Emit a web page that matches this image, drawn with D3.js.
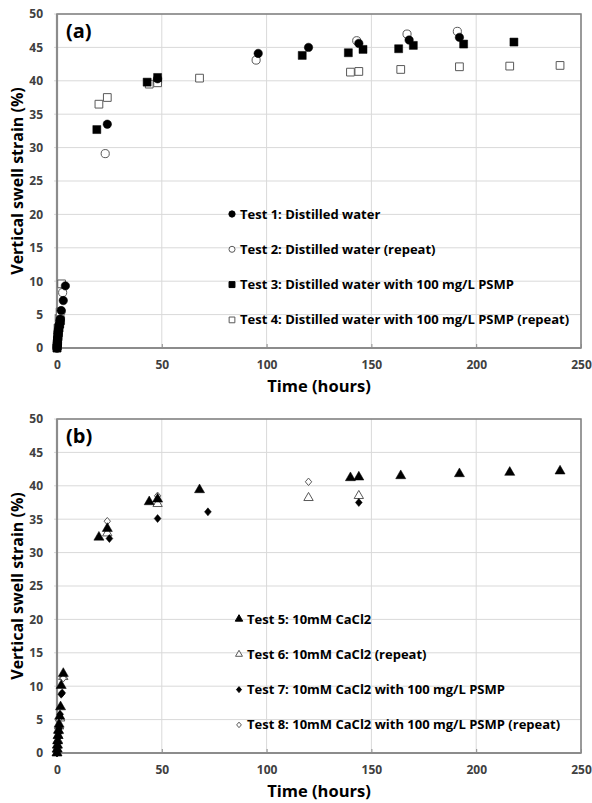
<!DOCTYPE html>
<html>
<head>
<meta charset="utf-8">
<script src="https://cdn.jsdelivr.net/npm/d3@7"></script>
<style>
body { margin: 0; background: #fff; }
text { font-family: "Open Sans", sans-serif; font-weight: bold; }
</style>
</head>
<body>
<div id="chart"></div>
<script>
// axis ticks
var timeTicks = [0, 50, 100, 150, 200, 250];
var strainTicks = [0, 5, 10, 15, 20, 25, 30, 35, 40, 45, 50];

// (a) distilled water
var test1Hours = [0, 0.08, 0.17, 0.25, 0.33, 0.5, 0.67, 0.83, 1, 1.5, 2, 3, 4, 24, 48, 96, 120, 144, 168, 192];
var test1Strain = [0, 0.4, 0.8, 1.2, 1.6, 2.2, 2.7, 3.1, 3.5, 4.3, 5.6, 7.1, 9.3, 33.5, 40.3, 44.1, 45.0, 45.6, 46.1, 46.5];
var test2Hours = [0, 0.1, 0.2, 0.3, 0.5, 0.7, 1, 1.5, 2, 2.7, 23, 48, 95, 143, 167, 191];
var test2Strain = [0, 0.5, 1.0, 1.4, 2.0, 2.6, 3.2, 4.2, 5.5, 8.3, 29.1, 39.8, 43.1, 46.0, 47.0, 47.4];
var test3Hours = [0, 0.1, 0.2, 0.3, 0.5, 0.7, 1, 1.3, 1.7, 19, 43, 48, 117, 139, 146, 163, 170, 194, 218];
var test3Strain = [0, 0.3, 0.7, 1.1, 1.7, 2.3, 3.0, 3.6, 4.1, 32.7, 39.8, 40.5, 43.8, 44.2, 44.7, 44.8, 45.3, 45.5, 45.8];
var test4Hours = [0, 0.1, 0.2, 0.3, 0.5, 1, 1.5, 2.2, 20, 24, 44, 48, 68, 140, 144, 164, 192, 216, 240];
var test4Strain = [0, 0.6, 1.3, 2.0, 3.0, 4.4, 5.4, 9.6, 36.5, 37.5, 39.5, 39.7, 40.4, 41.3, 41.4, 41.7, 42.1, 42.2, 42.3];

// (b) 10mM CaCl2
var test5Hours = [0, 0.1, 0.2, 0.3, 0.5, 0.7, 1, 1.3, 1.7, 2, 3, 20, 24, 44, 48, 68, 140, 144, 164, 192, 216, 240];
var test5Strain = [0, 0.6, 1.2, 1.8, 2.6, 3.4, 4.3, 5.5, 6.9, 10.1, 11.9, 32.3, 33.6, 37.6, 38.0, 39.4, 41.2, 41.3, 41.5, 41.8, 42.0, 42.2];
var test6Hours = [0, 0.1, 0.2, 0.4, 0.6, 0.8, 1, 1.5, 3, 24, 48, 120, 144];
var test6Strain = [0, 0.5, 1.1, 1.9, 2.6, 3.3, 4.0, 5.2, 11.4, 32.9, 37.3, 38.2, 38.5];
var test7Hours = [0, 0.1, 0.2, 0.4, 0.6, 0.8, 1, 1.5, 2, 2.5, 25, 48, 72, 144];
var test7Strain = [0, 0.4, 0.9, 1.6, 2.4, 3.0, 3.7, 5.8, 8.8, 9.0, 32.1, 35.1, 36.1, 37.5];
var test8Hours = [0, 0.1, 0.2, 0.4, 0.6, 0.8, 1, 1.5, 3, 24, 48, 120];
var test8Strain = [0, 0.5, 1.0, 1.7, 2.4, 3.1, 3.8, 5.3, 11.2, 34.7, 38.5, 40.6];

var legendLabelsA = ["Test 1: Distilled water", "Test 2: Distilled water (repeat)",
    "Test 3: Distilled water with 100 mg/L PSMP", "Test 4: Distilled water with 100 mg/L PSMP (repeat)"];
var legendLabelsB = ["Test 5: 10mM CaCl2", "Test 6: 10mM CaCl2 (repeat)",
    "Test 7: 10mM CaCl2 with 100 mg/L PSMP", "Test 8: 10mM CaCl2 with 100 mg/L PSMP (repeat)"];

(function(){

    var width = 592;
    var height = 803;
    var left = 57, plotW = 524, plotH = 334;

    var svg = d3.select("#chart").append("svg")
        .attr("width", width)
        .attr("height", height);

    svg.append("rect").attr("width", width).attr("height", height).attr("fill", "#fff");

    // diamond that is a bit wider than d3's own
    var diamond = {
        draw: function(ctx, size){
            var h = Math.sqrt(size) / 2;
            var w = h * 0.85;
            ctx.moveTo(0, -h);
            ctx.lineTo(w, 0);
            ctx.lineTo(0, h);
            ctx.lineTo(-w, 0);
            ctx.closePath();
        }
    };

    function zip(xs, ys){
        return xs.map(function(d, i){ return {t: d, v: ys[i]}; });
    }

    function panel(top, label, series, legendX, legendY){
        var g = svg.append("g").attr("transform", "translate(" + left + "," + top + ")");
        var x = d3.scaleLinear().domain([0, 250]).range([0, plotW]);
        var y = d3.scaleLinear().domain([0, 50]).range([plotH, 0]);

        // grid
        g.append("g").selectAll("line").data(timeTicks.slice(1)).enter().append("line")
            .attr("x1", x).attr("x2", x).attr("y1", 0).attr("y2", plotH)
            .attr("stroke", "#d9d9d9").attr("stroke-width", 1);
        g.append("g").selectAll("line").data(strainTicks.slice(1)).enter().append("line")
            .attr("y1", y).attr("y2", y).attr("x1", -3).attr("x2", plotW)
            .attr("stroke", "#d9d9d9").attr("stroke-width", 1);

        g.append("rect").attr("width", plotW).attr("height", plotH)
            .attr("fill", "none").attr("stroke", "#7f7f7f").attr("stroke-width", 1.5);

        // axes
        var ya = g.append("g").call(d3.axisLeft(y).tickValues(strainTicks).tickSize(0).tickPadding(14));
        ya.select(".domain").remove();
        ya.selectAll("text").attr("fill", "#404040").attr("font-size", "12px");

        var xa = g.append("g").attr("transform", "translate(0," + plotH + ")")
            .call(d3.axisBottom(x).tickValues(timeTicks).tickSize(-4).tickPadding(12));
        xa.select(".domain").remove();
        xa.selectAll("line").attr("stroke", "#8c8c8c");
        xa.selectAll("text").attr("fill", "#404040").attr("font-size", "12px");

        g.append("line").attr("x1", 0).attr("x2", plotW).attr("y1", plotH).attr("y2", plotH)
            .attr("stroke", "#8c8c8c").attr("stroke-width", 2.2);
        g.append("line").attr("x1", 0).attr("x2", 0).attr("y1", 0).attr("y2", plotH)
            .attr("stroke", "#8c8c8c").attr("stroke-width", 2.2);

        // titles
        g.append("text").attr("x", plotW / 2).attr("y", plotH + 44)
            .attr("text-anchor", "middle").attr("font-size", "16.5px").attr("fill", "#000")
            .text("Time (hours)");
        g.append("text").attr("transform", "translate(-34," + (plotH / 2) + ") rotate(-90)")
            .attr("text-anchor", "middle").attr("font-size", "16px").attr("fill", "#000")
            .text("Vertical swell strain (%)");
        g.append("text").attr("x", 9).attr("y", 24).attr("font-size", "20px").attr("fill", "#000")
            .text(label);

        // points
        series.forEach(function(s){
            g.append("g").selectAll("path").data(s.data).enter().append("path")
                .attr("d", d3.symbol().type(s.type).size(s.size))
                .attr("transform", function(d){ return "translate(" + x(d.t) + "," + y(d.v) + ")"; })
                .attr("fill", s.filled ? "#000" : "#fff")
                .attr("stroke", s.filled ? "#000" : "#595959")
                .attr("stroke-width", s.filled ? 0.5 : 1);
        });

        // legend
        var lg = g.append("g").attr("transform", "translate(" + (legendX - left) + "," + (legendY - top) + ")");
        var rows = series.slice().sort(function(a, b){ return a.order - b.order; });
        rows.forEach(function(s, i){
            lg.append("path")
                .attr("d", d3.symbol().type(s.type).size(s.size * 0.55))
                .attr("transform", "translate(0," + (i * 35.3) + ")")
                .attr("fill", s.filled ? "#000" : "#fff")
                .attr("stroke", s.filled ? "#000" : "#595959")
                .attr("stroke-width", 1);
            lg.append("text").attr("x", 8).attr("y", i * 35.3).attr("dy", "0.35em")
                .attr("font-size", "13px").attr("fill", "#000")
                .text(s.label);
        });
    }

    panel(14, "(a)", [
        {order: 1, label: legendLabelsA[1], data: zip(test2Hours, test2Strain), type: d3.symbolCircle, size: 52, filled: false},
        {order: 3, label: legendLabelsA[3], data: zip(test4Hours, test4Strain), type: d3.symbolSquare, size: 60, filled: false},
        {order: 0, label: legendLabelsA[0], data: zip(test1Hours, test1Strain), type: d3.symbolCircle, size: 56, filled: true},
        {order: 2, label: legendLabelsA[2], data: zip(test3Hours, test3Strain), type: d3.symbolSquare, size: 64, filled: true}
    ], 232, 214);

    panel(419, "(b)", [
        {order: 1, label: legendLabelsB[1], data: zip(test6Hours, test6Strain), type: d3.symbolTriangle, size: 38, filled: false},
        {order: 3, label: legendLabelsB[3], data: zip(test8Hours, test8Strain), type: diamond, size: 56, filled: false},
        {order: 2, label: legendLabelsB[2], data: zip(test7Hours, test7Strain), type: diamond, size: 64, filled: true},
        {order: 0, label: legendLabelsB[0], data: zip(test5Hours, test5Strain), type: d3.symbolTriangle, size: 44, filled: true}
    ], 239, 619);

})();
</script>
</body>
</html>
